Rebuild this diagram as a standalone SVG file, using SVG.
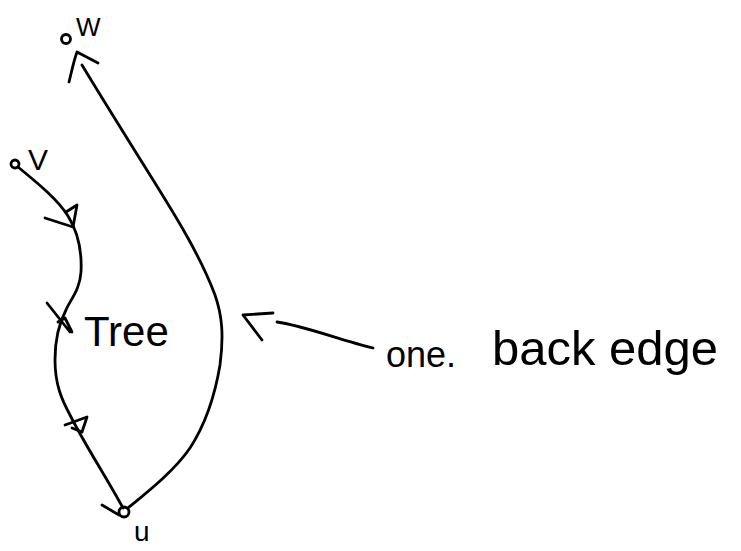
<svg xmlns="http://www.w3.org/2000/svg" width="741" height="551" viewBox="0 0 741 551">
<style>
.ln{fill:none;stroke:#000;stroke-width:2.8;stroke-linecap:round;stroke-linejoin:round}
.lbl{font-family:"Liberation Sans",Arial,sans-serif;fill:#000}
</style>
<rect width="741" height="551" fill="#fff"/>
<g id="node-w">
<circle class="ln" cx="66" cy="39" r="4.5"/>
<text class="lbl" x="76" y="36" font-size="26">W</text>
</g>
<g id="node-v">
<circle class="ln" cx="15" cy="164" r="4"/>
<text class="lbl" x="28" y="170" font-size="30">V</text>
</g>
<g id="node-u">
<circle class="ln" cx="124" cy="512" r="5"/>
<text class="lbl" x="134" y="541" font-size="28">u</text>
</g>
<g id="label-tree">
<text class="lbl" x="84" y="346" font-size="42">Tree</text>
</g>
<g id="label-back-edge">
<text class="lbl" x="386" y="367" font-size="36">one.</text>
<text class="lbl" x="492" y="365" font-size="49">back edge</text>
</g>
<g id="connectors">
<path class="ln" d="M18,167 C40,185 58,200 68,216 C78,232 82,252 81,272 C80,290 70,300 66,310 C58,325 55,340 55,360 C55,385 62,400 70,415 C85,445 105,475 123,508"/>
<path class="ln" d="M45,218 L73,227 M66,212 L77,205 L73,227"/>
<path class="ln" d="M47,303 L70,332 M58,322 L65,318 L72,332"/>
<path class="ln" d="M65,425 L87,417 L82,432 L72,428"/>
<path class="ln" d="M102,505 L119,515"/>
<path class="ln" d="M128,508 C150,490 175,470 190,448 C205,425 215,395 220,365 C224,335 222,315 215,295 C200,255 175,215 150,175 C125,135 100,95 82,65"/>
<path class="ln" d="M69,82 C72,70 74,60 77,52 L98,63"/>
<path class="ln" d="M373,348 C340,340 305,326 277,322"/>
<path class="ln" d="M273,313 L243,315 L262,340"/>
</g>
</svg>
